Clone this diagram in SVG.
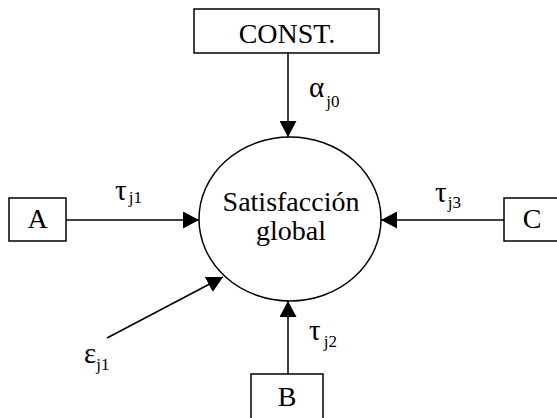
<svg xmlns="http://www.w3.org/2000/svg" width="557" height="418" viewBox="0 0 557 418">
<style>
.box{fill:#fff;stroke:#000;stroke-width:1.5}
.ln{stroke:#000;stroke-width:1.5;fill:none}
text{font-family:'Liberation Serif','Times New Roman','DejaVu Serif',serif;fill:#000}
.t{font-size:28px;text-anchor:middle}
.g{font-size:29px}
.s{font-size:17px}
</style>
<defs>
<marker id="ah" markerUnits="userSpaceOnUse" markerWidth="16" markerHeight="17" refX="16" refY="8.5" orient="auto">
<path d="M0,0 L16,8.5 L0,17 z" fill="#000"/>
</marker>
</defs>
<rect width="557" height="418" fill="#fff"/>
<g id="connectors">
<line class="ln" x1="288" y1="53" x2="288" y2="137" marker-end="url(#ah)"/>
<line class="ln" x1="66" y1="220" x2="199" y2="220" marker-end="url(#ah)"/>
<line class="ln" x1="504" y1="220" x2="381" y2="220" marker-end="url(#ah)"/>
<line class="ln" x1="288" y1="374" x2="288" y2="301" marker-end="url(#ah)"/>
<line class="ln" x1="107" y1="338" x2="223" y2="277" marker-end="url(#ah)"/>
<text class="g" x="309" y="97">α<tspan class="s" dx="2" dy="10">j0</tspan></text>
<text class="g" x="115" y="200">τ<tspan class="s" dx="2" dy="3">j1</tspan></text>
<text class="g" x="435" y="202">τ<tspan class="s" dx="1" dy="6">j3</tspan></text>
<text class="g" x="309" y="340">τ<tspan class="s" dx="3" dy="7">j2</tspan></text>
<text class="g" x="84" y="363">ε<tspan class="s" dy="7">j1</tspan></text>
</g>
<g id="const">
<rect class="box" x="194" y="9" width="185" height="44"/>
<text class="t" x="287" y="43">CONST.</text>
</g>
<g id="satisfaccion">
<ellipse class="box" cx="290" cy="219" rx="91" ry="82"/>
<text class="t" x="291" y="211">Satisfacción</text>
<text class="t" x="291" y="240">global</text>
</g>
<g id="a">
<rect class="box" x="9" y="198" width="57" height="43"/>
<text class="t" x="37.5" y="228">A</text>
</g>
<g id="c">
<rect class="box" x="504" y="198" width="60" height="43"/>
<text class="t" x="532" y="228">C</text>
</g>
<g id="b">
<rect class="box" x="251" y="374" width="72" height="50"/>
<text class="t" x="287" y="406">B</text>
</g>
</svg>
